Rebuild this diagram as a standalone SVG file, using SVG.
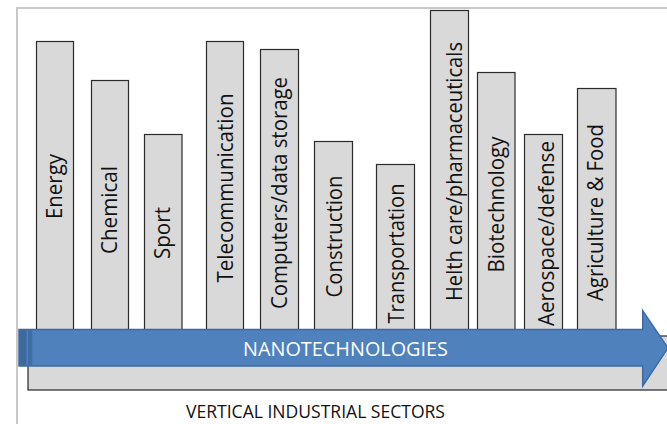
<svg xmlns="http://www.w3.org/2000/svg" width="667" height="424" viewBox="0 0 667 424">
  <style>
    .bar { fill: #d9d9d9; stroke: #2b2b2b; stroke-width: 1.2; }
    .lbl { font-family: "Open Sans", "Liberation Sans", sans-serif; font-size: 21px; fill: #111111; }
    .frame { fill: none; stroke: #c8c8c8; stroke-width: 2; }
  </style>

  <rect width="667" height="424" fill="#ffffff"/>
  <!-- outer frame (top and left edges) -->
  <path class="frame" d="M17,424 V8 H667"/>

  <!-- base platform behind the arrow -->
  <rect id="base" x="28" y="336" width="660" height="54" fill="#d9d9d9" stroke="#262626" stroke-width="1.2"/>

  <!-- sector bars -->
  <g id="energy">
    <rect class="bar" x="36.5" y="41.5" width="37" height="295"/>
    <text class="lbl" transform="translate(62.3,219) rotate(-90)" textLength="65" lengthAdjust="spacingAndGlyphs">Energy</text>
  </g>
  <g id="chemical">
    <rect class="bar" x="91.5" y="80.5" width="37" height="256"/>
    <text class="lbl" transform="translate(117.3,254) rotate(-90)" textLength="88" lengthAdjust="spacingAndGlyphs">Chemical</text>
  </g>
  <g id="sport">
    <rect class="bar" x="144.5" y="134.5" width="37.5" height="202"/>
    <text class="lbl" transform="translate(169.5,259) rotate(-90)" textLength="52" lengthAdjust="spacingAndGlyphs">Sport</text>
  </g>
  <g id="telecommunication">
    <rect class="bar" x="206.5" y="41.5" width="37" height="295"/>
    <text class="lbl" transform="translate(232.5,282.5) rotate(-90)" textLength="189" lengthAdjust="spacingAndGlyphs">Telecommunication</text>
  </g>
  <g id="computers">
    <rect class="bar" x="260.5" y="49.5" width="38" height="287"/>
    <text class="lbl" transform="translate(287.3,309) rotate(-90)" textLength="232" lengthAdjust="spacingAndGlyphs">Computers/data storage</text>
  </g>
  <g id="construction">
    <rect class="bar" x="314.5" y="141.5" width="38" height="195"/>
    <text class="lbl" transform="translate(341.7,297.5) rotate(-90)" textLength="122" lengthAdjust="spacingAndGlyphs">Construction</text>
  </g>
  <g id="transportation">
    <rect class="bar" x="376.5" y="164.5" width="38" height="172"/>
    <text class="lbl" transform="translate(404.3,323.5) rotate(-90)" textLength="140" lengthAdjust="spacingAndGlyphs">Transportation</text>
  </g>
  <g id="health-care">
    <rect class="bar" x="430.5" y="10.5" width="38" height="326"/>
    <text class="lbl" transform="translate(461.7,301) rotate(-90)" textLength="259" lengthAdjust="spacingAndGlyphs">Helth care/pharmaceuticals</text>
  </g>
  <g id="biotechnology">
    <rect class="bar" x="477.5" y="72.5" width="37.5" height="264"/>
    <text class="lbl" transform="translate(504.3,272.5) rotate(-90)" textLength="136" lengthAdjust="spacingAndGlyphs">Biotechnology</text>
  </g>
  <g id="aerospace">
    <rect class="bar" x="524.5" y="134.5" width="38" height="202"/>
    <text class="lbl" transform="translate(554.3,326) rotate(-90)" textLength="185" lengthAdjust="spacingAndGlyphs">Aerospace/defense</text>
  </g>
  <g id="agriculture">
    <rect class="bar" x="577.5" y="88.5" width="38.5" height="248"/>
    <text class="lbl" transform="translate(603.3,301) rotate(-90)" textLength="177" lengthAdjust="spacingAndGlyphs">Agriculture &amp; Food</text>
  </g>

  <!-- horizontal nanotechnology arrow -->
  <g id="connectors">
    <g id="nanotech-arrow">
      <path d="M19,329.5 H642.7 V310.7 L668,348 L642.7,386 V366 H19 Z" fill="#4f81bd" stroke="#3c6aa3" stroke-width="1.5"/>
      <rect x="19.5" y="330.2" width="7" height="35.1" fill="#3d699f"/>
      <rect x="28" y="330.2" width="4.3" height="35.1" fill="#406da3"/>
      <text x="345.5" y="355.5" text-anchor="middle" font-family="'Open Sans', 'Liberation Sans', sans-serif" font-size="20.5" fill="#ffffff" textLength="205" lengthAdjust="spacingAndGlyphs">NANOTECHNOLOGIES</text>
    </g>
  </g>

  <text id="caption" x="315.5" y="418" text-anchor="middle" font-family="'Open Sans', 'Liberation Sans', sans-serif" font-size="18" fill="#111111" textLength="259" lengthAdjust="spacingAndGlyphs">VERTICAL INDUSTRIAL SECTORS</text>
</svg>
